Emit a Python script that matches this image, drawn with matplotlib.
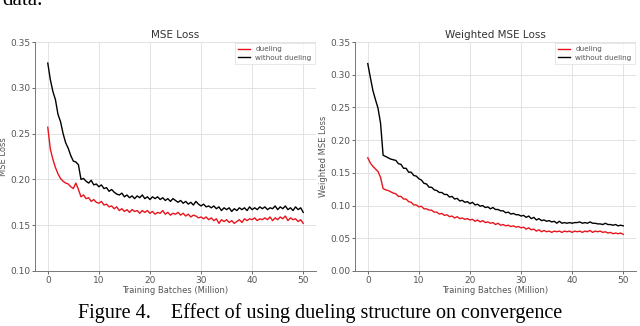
import numpy as np
import matplotlib
matplotlib.use('Agg')
from matplotlib import pyplot as plt

# training batches (million), one sample every 0.5
batches = np.arange(0, 50.5, 0.5)

mse_without = [
    0.327, 0.309, 0.296, 0.287, 0.271, 0.263, 0.250, 0.240, 0.234, 0.226,
    0.220, 0.219, 0.216, 0.200, 0.201, 0.198, 0.196, 0.199, 0.194, 0.195,
    0.192, 0.194, 0.190, 0.191, 0.187, 0.189, 0.186, 0.184, 0.183, 0.185,
    0.181, 0.183, 0.180, 0.182, 0.179, 0.182, 0.180, 0.183, 0.179, 0.181,
    0.178, 0.181, 0.179, 0.181, 0.178, 0.180, 0.177, 0.179, 0.176, 0.179,
    0.177, 0.175, 0.177, 0.174, 0.176, 0.173, 0.175, 0.172, 0.176, 0.173,
    0.171, 0.173, 0.170, 0.171, 0.169, 0.171, 0.168, 0.170, 0.166, 0.169,
    0.167, 0.169, 0.165, 0.168, 0.166, 0.169, 0.167, 0.169, 0.166, 0.170,
    0.167, 0.169, 0.167, 0.170, 0.168, 0.170, 0.167, 0.169, 0.168, 0.171,
    0.167, 0.170, 0.168, 0.171, 0.167, 0.169, 0.166, 0.170, 0.167, 0.169,
    0.164]
mse_dueling = [
    0.257, 0.233, 0.222, 0.213, 0.206, 0.201, 0.198, 0.196, 0.195, 0.192,
    0.190, 0.196, 0.189, 0.181, 0.183, 0.179, 0.180, 0.176, 0.178, 0.175,
    0.174, 0.176, 0.172, 0.173, 0.170, 0.171, 0.168, 0.170, 0.166, 0.168,
    0.165, 0.167, 0.164, 0.167, 0.165, 0.166, 0.163, 0.166, 0.164, 0.166,
    0.163, 0.165, 0.162, 0.164, 0.163, 0.166, 0.162, 0.164, 0.161, 0.163,
    0.162, 0.164, 0.161, 0.163, 0.160, 0.162, 0.159, 0.161, 0.160, 0.158,
    0.159, 0.157, 0.159, 0.156, 0.158, 0.155, 0.157, 0.152, 0.156, 0.154,
    0.156, 0.153, 0.155, 0.152, 0.154, 0.156, 0.153, 0.157, 0.155, 0.157,
    0.156, 0.158, 0.155, 0.157, 0.156, 0.158, 0.156, 0.159, 0.155, 0.158,
    0.156, 0.159, 0.157, 0.160, 0.155, 0.158, 0.156, 0.157, 0.154, 0.156,
    0.152]

wmse_without = [
    0.317, 0.296, 0.276, 0.262, 0.249, 0.226, 0.177, 0.175, 0.173, 0.171,
    0.170, 0.169, 0.164, 0.163, 0.157, 0.157, 0.151, 0.151, 0.146, 0.145,
    0.141, 0.139, 0.134, 0.133, 0.128, 0.128, 0.124, 0.123, 0.120, 0.120,
    0.117, 0.117, 0.113, 0.114, 0.110, 0.111, 0.107, 0.108, 0.105, 0.106,
    0.103, 0.105, 0.101, 0.102, 0.099, 0.100, 0.097, 0.098, 0.095, 0.097,
    0.094, 0.094, 0.092, 0.092, 0.089, 0.090, 0.087, 0.088, 0.086, 0.086,
    0.084, 0.085, 0.082, 0.084, 0.080, 0.082, 0.078, 0.080, 0.077, 0.078,
    0.076, 0.077, 0.075, 0.076, 0.073, 0.076, 0.073, 0.074, 0.073, 0.074,
    0.073, 0.074, 0.074, 0.075, 0.073, 0.074, 0.073, 0.075, 0.073, 0.073,
    0.072, 0.072, 0.071, 0.073, 0.071, 0.071, 0.070, 0.071, 0.069, 0.070,
    0.069]
wmse_dueling = [
    0.173, 0.165, 0.160, 0.156, 0.152, 0.143, 0.126, 0.124, 0.123, 0.121,
    0.119, 0.118, 0.114, 0.114, 0.110, 0.110, 0.106, 0.105, 0.101, 0.101,
    0.098, 0.099, 0.095, 0.095, 0.093, 0.093, 0.090, 0.090, 0.087, 0.088,
    0.085, 0.086, 0.083, 0.084, 0.081, 0.083, 0.080, 0.081, 0.079, 0.080,
    0.078, 0.079, 0.076, 0.078, 0.075, 0.077, 0.074, 0.075, 0.073, 0.074,
    0.071, 0.073, 0.070, 0.071, 0.069, 0.070, 0.068, 0.069, 0.067, 0.068,
    0.066, 0.067, 0.064, 0.066, 0.063, 0.064, 0.061, 0.063, 0.060, 0.062,
    0.060, 0.061, 0.059, 0.061, 0.060, 0.061, 0.059, 0.061, 0.060, 0.061,
    0.059, 0.061, 0.060, 0.061, 0.059, 0.061, 0.060, 0.062, 0.059, 0.061,
    0.060, 0.061, 0.059, 0.060, 0.058, 0.059, 0.057, 0.058, 0.057, 0.058,
    0.056]

panels = [
    ('MSE Loss', 'MSE Loss', mse_dueling, mse_without, (0.10, 0.35)),
    ('Weighted MSE Loss', 'Weighted MSE Loss', wmse_dueling, wmse_without, (0.00, 0.35)),
]

fig = plt.figure(figsize=(6.4, 3.26), dpi=100)
W, H = 640., 326.
boxes = [(35, 42, 316, 271), (355, 42, 636, 271)]

gray = '#555555'
for (title, ylabel, duel, wo, ylim), (x0, y0, x1, y1) in zip(panels, boxes):
    ax = fig.add_axes([x0 / W, 1 - y1 / H, (x1 - x0) / W, (y1 - y0) / H])
    ax.plot(batches, duel, color='#e8141c', lw=1.0, label='dueling')
    ax.plot(batches, wo, color='black', lw=1.0, label='without dueling')
    ax.set_ylim(*ylim)
    ax.set_yticks(np.arange(ylim[0], 0.351, 0.05))
    ax.set_xticks([0, 10, 20, 30, 40, 50])
    ax.set_title(title, fontsize=7.5, color='#333333', pad=3)
    ax.set_xlabel('Training Batches (Million)', fontsize=6, color=gray, labelpad=1)
    ax.set_ylabel(ylabel, fontsize=6, color=gray, labelpad=1.5)
    ax.tick_params(labelsize=6.5, colors=gray, length=2, width=0.6, pad=1.5)
    ax.grid(True, color='#e3e3e3', lw=0.7)
    ax.set_axisbelow(True)
    for s in ('top', 'right'):
        ax.spines[s].set_visible(False)
    for s in ('left', 'bottom'):
        ax.spines[s].set_color('#777777')
        ax.spines[s].set_linewidth(0.7)
    leg = ax.legend(loc='upper right', fontsize=5.2, frameon=True, borderaxespad=0.2,
                    handlelength=1.6, labelspacing=0.3, fancybox=False)
    leg.get_frame().set_edgecolor('#dddddd')
    leg.get_frame().set_linewidth(0.6)
    for t in leg.get_texts():
        t.set_color(gray)

fig.text(0.003, 1 - 5 / H, 'data.', fontsize=15, family='Liberation Serif', va='baseline')
fig.text(0.5, 1 - 318 / H, 'Figure 4.    Effect of using dueling structure on convergence',
         fontsize=14.5, family='Liberation Serif', ha='center', va='baseline')

fig.savefig('out.png', dpi=100)
